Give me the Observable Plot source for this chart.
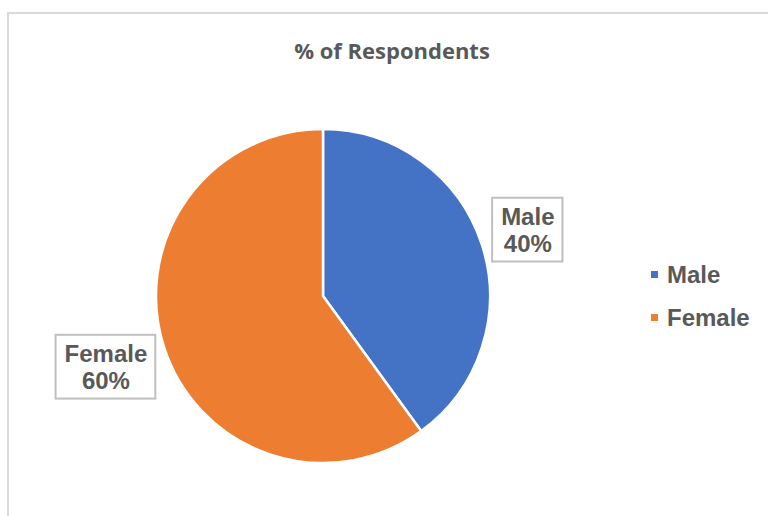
<!DOCTYPE html>
<html><head><meta charset="utf-8">
<script src="https://cdn.jsdelivr.net/npm/d3@7"></script>
<script src="https://cdn.jsdelivr.net/npm/@observablehq/plot@0.6"></script>
<style>
html,body{margin:0;padding:0;background:#fff;overflow:hidden}
#wrap{position:relative;width:768px;height:516px;overflow:hidden;font-family:"Liberation Sans",Arial,sans-serif}
#frame{position:absolute;left:7px;top:12px;width:900px;height:700px;border-left:2px solid #d9d9d9;border-top:2px solid #d9d9d9;box-sizing:border-box}
#title{position:relative;height:80px;box-sizing:border-box;padding-top:36px;line-height:28px;width:784px;text-align:center;font-family:"Open Sans",sans-serif;font-weight:700;font-size:22px;color:#595959}
#chart{position:relative}
#legend{position:absolute;left:651px;top:0;font-weight:700;font-size:24px;color:#595959}
.item{position:absolute;left:0;height:28px;line-height:28px;white-space:nowrap}
.sw{position:absolute;left:0;top:10px;width:7px;height:7px}
.lt{position:absolute;left:16px;top:0}
</style></head>
<body><div id="wrap"><div id="frame"></div><div id="title"></div><div id="chart"></div><div id="legend"></div></div>
<script>
const titleText = "% of Respondents";
const categories = ["Male", "Female"];
const values = [40, 60];
const colors = ["#4472C4", "#ED7D31"];
const labelTexts = ["40%", "60%"];

const W = 768, H = 436, R = 167, CX = 323, CY = 216;
const fontLabel = "bold 24px 'Liberation Sans', Arial, sans-serif";
const lineH = 26.4, padX = 8.5, padY = 5.5, gap = 4.5;

document.getElementById("title").textContent = titleText;

const data = categories.map((c, i) => ({category: c, value: values[i], color: colors[i], pct: labelTexts[i]}));
const arcs = d3.pie().sort(null).value(d => d.value)(data);

const ctx = document.createElement("canvas").getContext("2d");
ctx.font = fontLabel;
const labels = arcs.map(a => {
  const text = a.data.category + "\n" + a.data.pct;
  const w = Math.max(...text.split("\n").map(t => ctx.measureText(t).width));
  const hw = w / 2 + padX, hh = lineH + padY;
  const mid = (a.startAngle + a.endAngle) / 2;
  const s = Math.sin(mid), c = Math.cos(mid);
  const rpx = R + gap + hw * Math.abs(s) + hh * Math.abs(c);
  const x = s * rpx / R, y = c * rpx / R;
  return {text, x, y, x1: x - hw / R, x2: x + hw / R, y1: y - hh / R, y2: y + hh / R};
});

function pieMark(index, scales) {
  const x = scales.x, y = scales.y;
  const cx = x(0), cy = y(0), r = x(1) - x(0);
  const arc = d3.arc().innerRadius(0).outerRadius(r);
  const g = d3.create("svg:g").attr("transform", `translate(${cx},${cy})`);
  g.selectAll("path").data(arcs).join("path")
    .attr("d", arc)
    .attr("fill", d => d.data.color)
    .attr("stroke", "#fff")
    .attr("stroke-width", 2.5)
    .attr("stroke-linejoin", "round");
  return g.node();
}

const plot = Plot.plot({
  width: W, height: H,
  margin: 0,
  x: {domain: [-1, 1], range: [CX - R, CX + R], axis: null},
  y: {domain: [-1, 1], range: [CY + R, CY - R], axis: null},
  style: {background: "transparent", overflow: "visible"},
  marks: [
    pieMark,
    Plot.rect(labels, {x1: "x1", x2: "x2", y1: "y1", y2: "y2", fill: "#fff", stroke: "#bfbfbf", strokeWidth: 2}),
    Plot.text(labels, {x: "x", y: "y", text: "text", fontSize: 24, fontWeight: "bold", fill: "#595959",
      fontFamily: "'Liberation Sans', Arial, sans-serif", lineHeight: 1.1, textAnchor: "middle"})
  ]
});
document.getElementById("chart").appendChild(plot);

const legend = document.getElementById("legend");
const legendCenters = [274, 317];
categories.forEach((c, i) => {
  const it = document.createElement("div");
  it.className = "item";
  it.style.top = (legendCenters[i] - 13.5) + "px";
  it.innerHTML = `<span class="sw" style="background:${colors[i]}"></span><span class="lt"></span>`;
  it.querySelector(".lt").textContent = c;
  legend.appendChild(it);
});
</script></body></html>
